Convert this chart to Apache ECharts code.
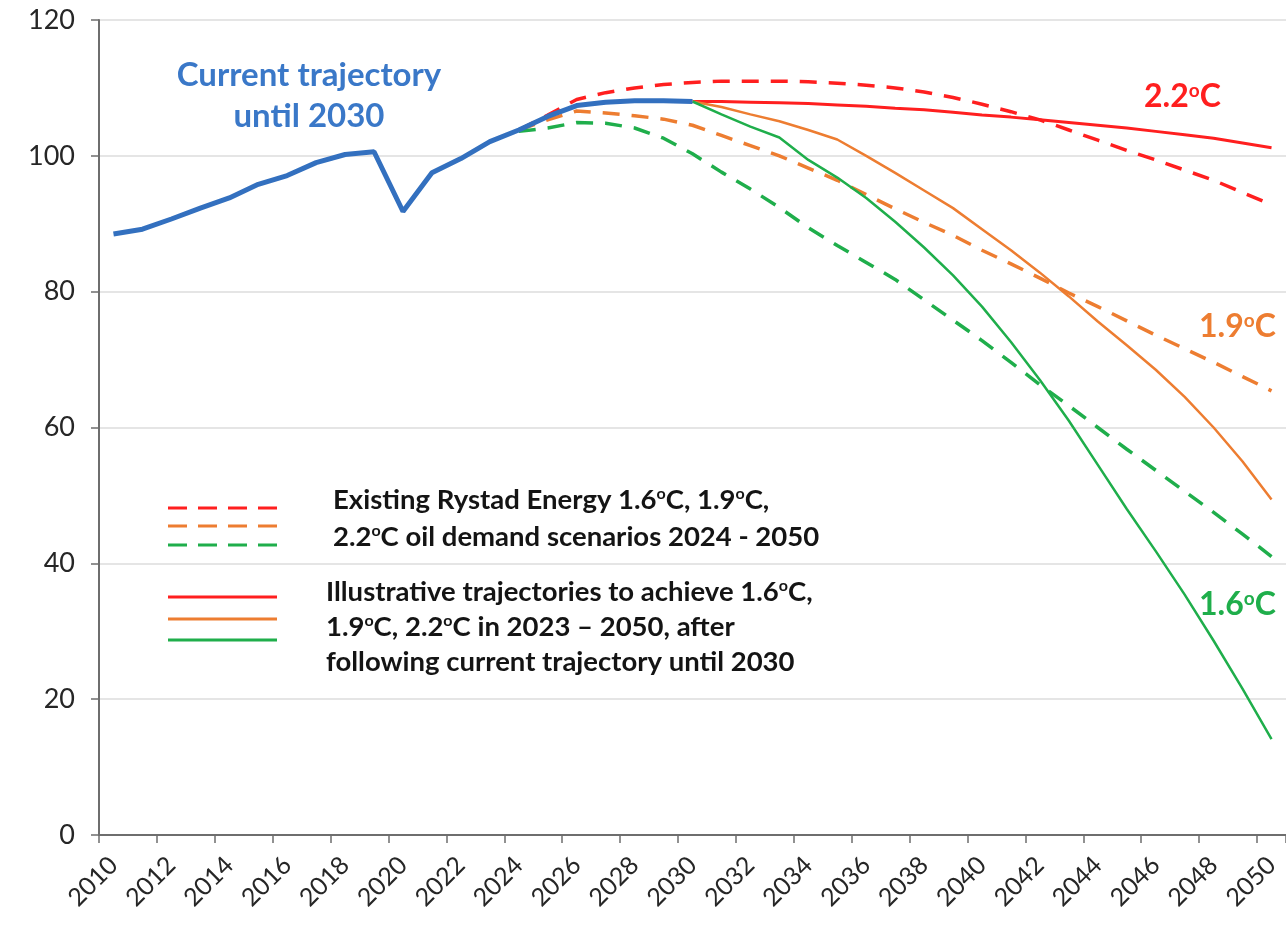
<!DOCTYPE html>
<html>
<head>
<meta charset="utf-8">
<script src="https://cdn.jsdelivr.net/npm/echarts@6/dist/echarts.min.js"></script>
<style>
  html, body { margin: 0; padding: 0; background: #fff; }
  #container { width: 1286px; height: 930px; }
</style>
</head>
<body>
<div id="container"></div>
<script>
// years on the x axis
var years = [];
for (var y = 2010; y <= 2050; y++) { years.push(String(y)); }

// current trajectory 2010 - 2030
var histYears = ['2010','2011','2012','2013','2014','2015','2016','2017','2018','2019','2020',
                 '2021','2022','2023','2024','2025','2026','2027','2028','2029','2030'];
var histVals = [88.5, 89.2, 90.7, 92.3, 93.8, 95.8, 97.1, 99.0, 100.2, 100.6, 91.8,
                97.5, 99.6, 102.1, 103.8, 105.8, 107.4, 107.9, 108.1, 108.1, 108.0];

// existing scenarios 2024 - 2050 (dashed)
var scenYears = ['2024','2025','2026','2027','2028','2029','2030','2031','2032','2033','2034',
                 '2035','2036','2037','2038','2039','2040','2041','2042','2043','2044',
                 '2045','2046','2047','2048','2049','2050'];
var scen22 = [103.8, 106.0, 108.3, 109.3, 110.0, 110.5, 110.8, 111.0, 111.0, 111.0, 110.9,
              110.7, 110.4, 110.0, 109.4, 108.6, 107.6, 106.5, 105.3, 103.8, 102.3,
              100.8, 99.4, 97.9, 96.4, 94.6, 92.8];
var scen19 = [103.8, 105.3, 106.6, 106.3, 105.9, 105.4, 104.5, 103.0, 101.5, 100.0, 98.2,
              96.4, 94.3, 92.2, 90.2, 88.3, 86.1, 84.1, 82.0, 79.8, 77.8,
              75.7, 73.6, 71.6, 69.6, 67.5, 65.4];
var scen16 = [103.6, 104.1, 104.9, 104.8, 104.1, 102.6, 100.3, 97.6, 95.1, 92.4, 89.4,
              86.8, 84.3, 81.8, 78.8, 75.8, 72.8, 69.6, 66.3, 63.2, 60.0,
              56.8, 53.7, 50.6, 47.5, 44.3, 41.0];

// illustrative trajectories 2030 - 2050 (solid)
var trajYears = ['2030','2031','2032','2033','2034','2035','2036','2037','2038','2039','2040',
                 '2041','2042','2043','2044','2045','2046','2047','2048','2049','2050'];
var traj22 = [108.0, 108.0, 107.9, 107.8, 107.7, 107.5, 107.3, 107.0, 106.8, 106.4, 106.0,
              105.7, 105.3, 104.9, 104.5, 104.1, 103.6, 103.1, 102.6, 101.9, 101.2];
var traj19 = [108.0, 107.2, 106.1, 105.1, 103.8, 102.4, 100.0, 97.5, 94.9, 92.3, 89.2,
              86.1, 82.8, 79.3, 75.6, 72.1, 68.5, 64.5, 60.0, 55.0, 49.4];
var traj16 = [108.0, 106.1, 104.3, 102.7, 99.4, 96.8, 93.8, 90.3, 86.5, 82.4, 77.8,
              72.6, 67.0, 61.0, 54.5, 48.0, 41.8, 35.4, 28.6, 21.5, 14.1];

var yTicks = [0, 20, 40, 60, 80, 100, 120];

var RED = '#ff1f1f', ORANGE = '#ed7d31', GREEN = '#1fae4b', BLUE = '#3370bf';
var FONT = 'Lato, "Open Sans", sans-serif';

//put a short list onto the full year axis
function toAxis(ys, vals) {
    var out = [];
    for (var i = 0; i < years.length; i++) {
        var k = ys.indexOf(years[i]);
        out.push(k >= 0 ? vals[k] : null);
    }
    return out;
}

function lineSeries(name, data, color, width, dashed, z) {
    return {
        name: name,
        type: 'line',
        data: data,
        showSymbol: false,
        connectNulls: false,
        z: z,
        lineStyle: { color: color, width: width, type: dashed ? [17, 12] : 'solid', cap: 'butt' },
        emphasis: { disabled: true }
    };
}

// text with a raised small "o" for degrees
function label(text, x, y, color, size, align) {
    var sup = Math.round(size * 0.58);
    var r = {
        t: { fill: color, fontSize: size, lineHeight: size, fontWeight: 'bold', fontFamily: FONT },
        s: { fill: color, fontSize: sup, lineHeight: sup, verticalAlign: 'top',
             fontWeight: 'bold', fontFamily: FONT, padding: [0, 0, Math.round(size * 0.45), 0] }
    };
    var parts = text.split('°');
    var str = '';
    for (var i = 0; i < parts.length; i++) {
        if (parts[i]) { str += '{t|' + parts[i] + '}'; }
        if (i < parts.length - 1) { str += '{s|o}'; }
    }
    return {
        type: 'text', x: x, y: y,
        style: {
            text: str, fill: color, font: 'bold ' + size + 'px ' + FONT,
            textAlign: align || 'left', textVerticalAlign: 'middle', rich: r
        }
    };
}

function legendLine(y, color, dashed) {
    return {
        type: 'line',
        shape: { x1: 168, y1: y, x2: 277, y2: y },
        style: { stroke: color, lineWidth: 3, lineDash: dashed ? [19, 11] : null }
    };
}

var dom = document.getElementById('container');
var myChart = echarts.init(dom);
var option = {
    backgroundColor: '#fff',
    animation: false,
    grid: { left: 99, top: 20, width: 1194, height: 815, containLabel: false },
    xAxis: {
        type: 'category',
        data: years,
        boundaryGap: true,
        axisLine: { lineStyle: { color: '#6e6e6e', width: 2 } },
        axisTick: { show: true, interval: 1, length: 8, lineStyle: { color: '#6e6e6e', width: 1.5 } },
        axisLabel: { interval: 1, rotate: 45, fontSize: 25, color: '#262626', fontFamily: FONT, margin: 26 }
    },
    yAxis: {
        type: 'value',
        min: yTicks[0],
        max: yTicks[yTicks.length - 1],
        interval: 20,
        axisLine: { show: true, lineStyle: { color: '#6e6e6e', width: 2 } },
        axisTick: { show: true, length: 8, lineStyle: { color: '#6e6e6e', width: 1.5 } },
        axisLabel: { fontSize: 27, color: '#262626', fontFamily: FONT, margin: 24 },
        splitLine: { lineStyle: { color: '#dcdcdc', width: 1.5 } }
    },
    series: [
        lineSeries('2.2 existing', toAxis(scenYears, scen22), RED, 3.5, true, 2),
        lineSeries('1.9 existing', toAxis(scenYears, scen19), ORANGE, 3.5, true, 2),
        lineSeries('1.6 existing', toAxis(scenYears, scen16), GREEN, 3.5, true, 2),
        lineSeries('2.2 illustrative', toAxis(trajYears, traj22), RED, 3, false, 3),
        lineSeries('1.9 illustrative', toAxis(trajYears, traj19), ORANGE, 2.5, false, 3),
        lineSeries('1.6 illustrative', toAxis(trajYears, traj16), GREEN, 2.5, false, 3),
        lineSeries('current', toAxis(histYears, histVals), BLUE, 5, false, 5)
    ],
    graphic: [
        label('Current trajectory', 309, 75, '#3a78c8', 33, 'center'),
        label('until 2030', 309, 116, '#3a78c8', 33, 'center'),
        label('2.2°C', 1144, 97, RED, 32),
        label('1.9°C', 1199, 327, ORANGE, 32),
        label('1.6°C', 1199, 605, GREEN, 32),
        legendLine(508, RED, true),
        legendLine(526, ORANGE, true),
        legendLine(545, GREEN, true),
        legendLine(597, RED, false),
        legendLine(619, ORANGE, false),
        legendLine(640, GREEN, false),
        label('Existing Rystad Energy 1.6°C, 1.9°C,', 333, 500, '#141414', 27.5),
        label('2.2°C oil demand scenarios 2024 - 2050', 333, 537, '#141414', 27.5),
        label('Illustrative trajectories to achieve 1.6°C,', 326, 592, '#141414', 27.5),
        label('1.9°C, 2.2°C in 2023 \u2013 2050, after', 326, 627, '#141414', 27.5),
        label('following current trajectory until 2030', 326, 662, '#141414', 27.5)
    ]
};
if (option && typeof option === "object") {
    myChart.setOption(option, true);
}
</script>
</body>
</html>
